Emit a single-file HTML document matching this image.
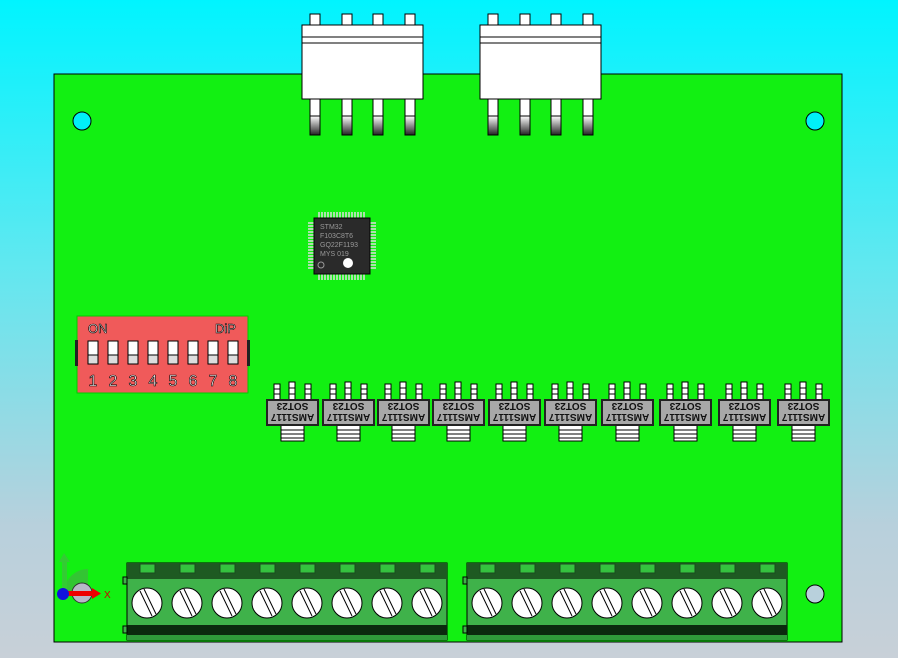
<!DOCTYPE html>
<html><head><meta charset="utf-8"><style>
html,body{margin:0;padding:0;width:898px;height:658px;overflow:hidden;background:linear-gradient(#00f4ff 0%,#60e8f0 40%,#b8d0dc 80%,#c8d0d8 100%);}
svg{display:block}
text{font-family:"Liberation Sans",sans-serif}
</style></head><body>
<svg width="898" height="658" viewBox="0 0 898 658" xmlns="http://www.w3.org/2000/svg">
<defs>
<linearGradient id="pg" x1="0" y1="0" x2="0" y2="1"><stop offset="0" stop-color="#fff"/><stop offset="1" stop-color="#222"/></linearGradient>
<g id="reg">
<rect x="7" y="-16" width="6" height="17" fill="#fff" stroke="#000"/>
<rect x="22" y="-18" width="6" height="19" fill="#fff" stroke="#000"/>
<rect x="38" y="-16" width="6" height="17" fill="#fff" stroke="#000"/>
<line x1="7" y1="-11" x2="13" y2="-11" stroke="#000"/><line x1="7" y1="-6" x2="13" y2="-6" stroke="#000"/>
<line x1="22" y1="-12" x2="28" y2="-12" stroke="#000"/><line x1="22" y1="-6" x2="28" y2="-6" stroke="#000"/>
<line x1="38" y1="-11" x2="44" y2="-11" stroke="#000"/><line x1="38" y1="-6" x2="44" y2="-6" stroke="#000"/>
<rect x="14" y="25" width="23" height="16" fill="#fff" stroke="#000"/>
<line x1="14" y1="30" x2="37" y2="30" stroke="#000"/><line x1="14" y1="34" x2="37" y2="34" stroke="#000"/><line x1="14" y1="38" x2="37" y2="38" stroke="#000"/>
<rect x="0" y="0" width="51" height="25" fill="#a8a8a8" stroke="#222" stroke-width="2"/>
<g transform="rotate(180 25.5 12.5)">
<text x="25.5" y="11" font-size="10" font-weight="bold" text-anchor="middle" fill="#111">AMS1117</text>
<text x="25.5" y="22" font-size="10" font-weight="bold" text-anchor="middle" fill="#111">SOT23</text>
</g>
</g>
<g id="conn">
<rect x="8" y="-11" width="10" height="11" fill="#fff" stroke="#000"/>
<rect x="40" y="-11" width="10" height="11" fill="#fff" stroke="#000"/>
<rect x="71" y="-11" width="10" height="11" fill="#fff" stroke="#000"/>
<rect x="103" y="-11" width="10" height="11" fill="#fff" stroke="#000"/>
<g stroke="#000">
<rect x="8" y="74" width="10" height="17" fill="#fff"/><rect x="8" y="91" width="10" height="19" fill="url(#pg)"/>
<rect x="40" y="74" width="10" height="17" fill="#fff"/><rect x="40" y="91" width="10" height="19" fill="url(#pg)"/>
<rect x="71" y="74" width="10" height="17" fill="#fff"/><rect x="71" y="91" width="10" height="19" fill="url(#pg)"/>
<rect x="103" y="74" width="10" height="17" fill="#fff"/><rect x="103" y="91" width="10" height="19" fill="url(#pg)"/>
</g>
<rect x="0" y="0" width="121" height="74" fill="#fff" stroke="#000"/>
<line x1="0" y1="12" x2="121" y2="12" stroke="#000"/><line x1="0" y1="18" x2="121" y2="18" stroke="#000"/>
</g>
<g id="screw">
<circle r="15" fill="#fff" stroke="#000"/>
<line x1="-7" y1="-12" x2="5" y2="13" stroke="#000"/><line x1="-3" y1="-14" x2="9" y2="11" stroke="#000"/>
</g>
<g id="tb">
<rect x="0" y="0" width="320" height="77" fill="#3fb24a" stroke="#000"/>
<rect x="0" y="0" width="320" height="16" fill="#1e5a22"/>
<rect x="0" y="62" width="320" height="10" fill="#0b2a0e"/>
<rect x="0" y="72" width="320" height="5" fill="#2f9a3a"/>
<g fill="#35c23f" stroke="#1a4a1d">
<rect x="13" y="1" width="15" height="9"/><rect x="53" y="1" width="15" height="9"/><rect x="93" y="1" width="15" height="9"/><rect x="133" y="1" width="15" height="9"/><rect x="173" y="1" width="15" height="9"/><rect x="213" y="1" width="15" height="9"/><rect x="253" y="1" width="15" height="9"/><rect x="293" y="1" width="15" height="9"/>
</g>
<rect x="-4" y="14" width="4" height="7" fill="#3fb24a" stroke="#000"/>
<rect x="-4" y="63" width="4" height="7" fill="#3fb24a" stroke="#000"/>
<use href="#screw" x="20" y="40"/><use href="#screw" x="60" y="40"/><use href="#screw" x="100" y="40"/><use href="#screw" x="140" y="40"/>
<use href="#screw" x="180" y="40"/><use href="#screw" x="220" y="40"/><use href="#screw" x="260" y="40"/><use href="#screw" x="300" y="40"/>
</g>
</defs>

<rect x="54" y="74" width="788" height="568" fill="#12f012" stroke="#000"/>
<circle cx="82" cy="121" r="9" fill="#00f0f8" stroke="#000"/>
<circle cx="815" cy="121" r="9" fill="#00f0f8" stroke="#000"/>
<circle cx="815" cy="594" r="9" fill="#b8d0dc" stroke="#000"/>

<use href="#conn" x="302" y="25"/>
<use href="#conn" x="480" y="25"/>

<g>
<g stroke="#ddd" stroke-width="1.5">
<path d="M319 212v6M322 212v6M325 212v6M328 212v6M331 212v6M334 212v6M337 212v6M340 212v6M343 212v6M346 212v6M349 212v6M352 212v6M355 212v6M358 212v6M361 212v6M364 212v6"/>
<path d="M319 274v6M322 274v6M325 274v6M328 274v6M331 274v6M334 274v6M337 274v6M340 274v6M343 274v6M346 274v6M349 274v6M352 274v6M355 274v6M358 274v6M361 274v6M364 274v6"/>
<path d="M308 223h6M308 226h6M308 229h6M308 232h6M308 235h6M308 238h6M308 241h6M308 244h6M308 247h6M308 250h6M308 253h6M308 256h6M308 259h6M308 262h6M308 265h6M308 268h6"/>
<path d="M370 223h6M370 226h6M370 229h6M370 232h6M370 235h6M370 238h6M370 241h6M370 244h6M370 247h6M370 250h6M370 253h6M370 256h6M370 259h6M370 262h6M370 265h6M370 268h6"/>
</g>
<rect x="314" y="218" width="56" height="56" fill="#2a2a2a" stroke="#000"/>
<text x="320" y="229" font-size="7" fill="#999">STM32</text>
<text x="320" y="238" font-size="7" fill="#999">F103C8T6</text>
<text x="320" y="247" font-size="7" fill="#999">GQ22F1193</text>
<text x="320" y="256" font-size="7" fill="#999">MYS 019</text>
<circle cx="321" cy="265" r="3" fill="none" stroke="#999"/>
<circle cx="348" cy="263" r="5" fill="#fff"/>
</g>

<rect x="77" y="316" width="171" height="77" fill="#f05a5a" stroke="#0c0"/>
<rect x="75" y="340" width="3" height="26" fill="#222"/><rect x="247" y="340" width="3" height="26" fill="#222"/>
<text x="88" y="333" font-size="13" fill="#fff" stroke="#000" stroke-width="0.6">ON</text>
<text x="215" y="333" font-size="13" fill="#fff" stroke="#000" stroke-width="0.6">DiP</text>
<g fill="#fff" stroke="#000">
<rect x="88" y="341" width="10" height="14"/><rect x="88" y="355" width="10" height="9" fill="#ddd"/>
<rect x="108" y="341" width="10" height="14"/><rect x="108" y="355" width="10" height="9" fill="#ddd"/>
<rect x="128" y="341" width="10" height="14"/><rect x="128" y="355" width="10" height="9" fill="#ddd"/>
<rect x="148" y="341" width="10" height="14"/><rect x="148" y="355" width="10" height="9" fill="#ddd"/>
<rect x="168" y="341" width="10" height="14"/><rect x="168" y="355" width="10" height="9" fill="#ddd"/>
<rect x="188" y="341" width="10" height="14"/><rect x="188" y="355" width="10" height="9" fill="#ddd"/>
<rect x="208" y="341" width="10" height="14"/><rect x="208" y="355" width="10" height="9" fill="#ddd"/>
<rect x="228" y="341" width="10" height="14"/><rect x="228" y="355" width="10" height="9" fill="#ddd"/>
</g>
<g font-size="16" fill="#fff" stroke="#000" stroke-width="0.6" text-anchor="middle">
<text x="93" y="386">1</text><text x="113" y="386">2</text><text x="133" y="386">3</text><text x="153" y="386">4</text>
<text x="173" y="386">5</text><text x="193" y="386">6</text><text x="213" y="386">7</text><text x="233" y="386">8</text>
</g>

<use href="#reg" x="267" y="400"/>
<use href="#reg" x="323" y="400"/>
<use href="#reg" x="378" y="400"/>
<use href="#reg" x="433" y="400"/>
<use href="#reg" x="489" y="400"/>
<use href="#reg" x="545" y="400"/>
<use href="#reg" x="602" y="400"/>
<use href="#reg" x="660" y="400"/>
<use href="#reg" x="719" y="400"/>
<use href="#reg" x="778" y="400"/>

<use href="#tb" x="127" y="563"/>
<use href="#tb" x="467" y="563"/>

<path d="M64 593 A24 24 0 0 1 88 569 L88 593Z" fill="#4aa84a" opacity="0.6"/>
<circle cx="82" cy="593" r="10" fill="#b8b8c8" stroke="#333"/>
<rect x="62" y="560" width="5" height="30" fill="#3c3"/>
<polygon points="59,562 64,553 70,562" fill="#3c3"/>
<rect x="66" y="591" width="28" height="5" fill="#e00"/>
<polygon points="92,588 101,593.5 92,599" fill="#e00"/>
<circle cx="63" cy="594" r="6" fill="#11d"/>
<text x="104" y="598" font-size="10" fill="#c00">X</text>
</svg>
</body></html>
